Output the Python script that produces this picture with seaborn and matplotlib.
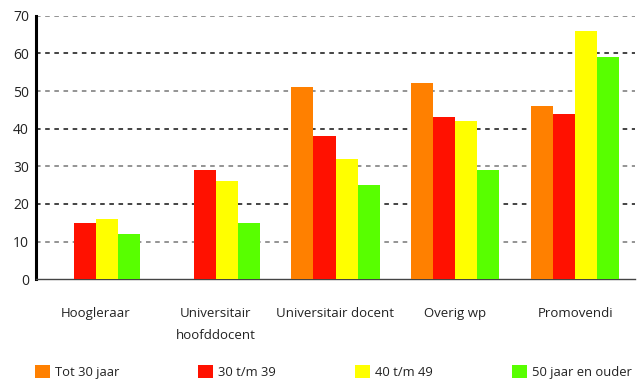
import matplotlib
matplotlib.use("Agg")
import matplotlib.pyplot as plt
from matplotlib.patches import Patch
import seaborn as sns
import pandas as pd

# Functiecategorieën en leeftijdsgroepen
categories = ["Hoogleraar", "Universitair\nhoofddocent", "Universitair docent", "Overig wp", "Promovendi"]
age_groups = ["Tot 30 jaar", "30 t/m 39", "40 t/m 49", "50 jaar en ouder"]

tot_30 = [0, 0, 51, 52, 46]
van_30_tm_39 = [15, 29, 38, 43, 44]
van_40_tm_49 = [16, 26, 32, 42, 66]
vanaf_50 = [12, 15, 25, 29, 59]

y_ticks = [0, 10, 20, 30, 40, 50, 60, 70]
colors = ["#FF8000", "#FF1100", "#FFFF00", "#58FF00"]

series = [tot_30, van_30_tm_39, van_40_tm_49, vanaf_50]
rows = []
for group, values in zip(age_groups, series):
    for cat, v in zip(categories, values):
        rows.append({"functie": cat, "leeftijd": group, "aantal": v})
df = pd.DataFrame(rows)

sns.set_style("white")
plt.rcParams["font.family"] = ["Open Sans", "DejaVu Sans"]

fig = plt.figure(figsize=(6.38, 3.81), dpi=100)
ax = fig.add_axes([36 / 638, 1 - 279.3 / 381, 599 / 638, 263.6 / 381])

palette = dict(zip(age_groups, colors))
sns.barplot(data=df, x="functie", y="aantal", hue="leeftijd", order=categories,
            hue_order=age_groups, palette=palette, saturation=1, width=0.735,
            linewidth=0, legend=False, ax=ax, zorder=3)

ax.set_xlim(-0.5, len(categories) - 0.5)
ax.set_ylim(0, 70)
ax.set_yticks(y_ticks)
ax.set_yticklabels([str(t) for t in y_ticks], fontsize=10, color="#222222")
ax.set_xlabel("")
ax.set_ylabel("")

# Gestippelde hulplijnen
ax.yaxis.grid(True, linestyle=(0, (3, 3)), linewidth=1.1, zorder=0)
ax.set_axisbelow(True)
for t, gl in zip(y_ticks, ax.get_ygridlines()):
    gl.set_color("#777777" if t % 20 == 10 else "#111111")
    if t == 0:
        gl.set_visible(False)

# Categorielabels tussen de scheidingsstreepjes
ax.set_xticks(range(len(categories)))
ax.set_xticklabels(categories, fontsize=9.5, color="#222222", linespacing=1.85)
ax.tick_params(axis="x", which="major", length=0, pad=20)
ax.set_xticks([i - 0.5 for i in range(len(categories) + 1)], minor=True)
ax.tick_params(axis="x", which="minor", length=5, width=1, color="#333333", direction="out")
ax.tick_params(axis="y", which="major", length=3, width=1, color="#000000", direction="out", pad=2)

for side in ("top", "right"):
    ax.spines[side].set_visible(False)
ax.spines["left"].set_linewidth(2.2)
ax.spines["left"].set_color("#000000")
ax.spines["bottom"].set_linewidth(1)
ax.spines["bottom"].set_color("#444444")

handles = [Patch(facecolor=c, edgecolor="none", label=g) for g, c in zip(age_groups, colors)]
fs = 9.4
px = fs * 100 / 72
fig.legend(handles=handles, loc="center left", bbox_to_anchor=(35 / 638, 1 - 372 / 381),
           ncol=4, frameon=False, fontsize=fs, borderpad=0, borderaxespad=0,
           handlelength=15 / px, handleheight=15 / px, handletextpad=5 / px,
           columnspacing=79 / px, labelcolor="#222222")

fig.savefig("out.png", dpi=100)
